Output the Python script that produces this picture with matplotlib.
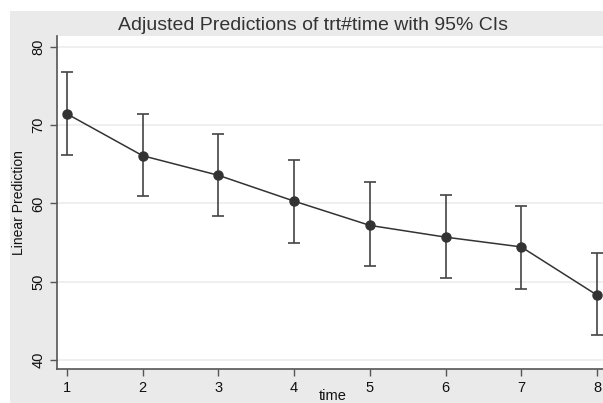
import numpy as np
import matplotlib

matplotlib.use('Agg')
import matplotlib.pyplot as plt
from matplotlib.patches import Rectangle

# values
time = [1, 2, 3, 4, 5, 6, 7, 8]
pred = [71.45, 66.1, 63.6, 60.3, 57.2, 55.7, 54.45, 48.3]
ci_low = [66.15, 60.9, 58.4, 54.9, 52.0, 50.5, 49.1, 43.2]
ci_high = [76.8, 71.4, 68.9, 65.5, 62.7, 61.1, 59.7, 53.7]
yticks = [40, 50, 60, 70, 80]

plt.rcParams['font.family'] = ['Liberation Sans', 'DejaVu Sans']

W, H = 603, 403
fig = plt.figure(figsize=(W / 100, H / 100), dpi=100)
fig.patch.set_facecolor('white')
# gray graph region (cropped at right / bottom)
fig.patches.append(Rectangle((10 / W, 0), 1, (H - 11) / H, transform=fig.transFigure,
                             facecolor='#eaeaea', edgecolor='none', zorder=-10))

# plot region: left 57px, top 36px, bottom 369px, right beyond the crop
x0, x1 = 0.868, 8.08
left = 57 / W
right = 603 / W
ax = fig.add_axes([left, (H - 369) / H, right - left, (369 - 36) / H])
ax.set_zorder(1)
ax.set_facecolor('white')
ax.set_xlim(x0, x1)
ax.set_ylim(38.85, 81.4)

ax.grid(axis='y', color='#ececec', linewidth=1.2)
ax.set_axisbelow(True)

err = [np.array(pred) - np.array(ci_low), np.array(ci_high) - np.array(pred)]
ax.errorbar(time, pred, yerr=err, fmt='none', ecolor='#444444', elinewidth=1.2,
            capsize=4, capthick=1.2)
ax.plot(time, pred, color='#333333', linewidth=1.1, marker='o', markersize=6.5,
        markerfacecolor='#333333', markeredgecolor='#333333')

for s in ['top', 'right']:
    ax.spines[s].set_visible(False)
for s in ['left', 'bottom']:
    ax.spines[s].set_color('#555555')
    ax.spines[s].set_linewidth(1.2)

ax.set_xticks(time)
ax.set_yticks(yticks)
ax.tick_params(axis='both', direction='out', length=5, width=1, color='#555555',
               labelsize=10.5, labelcolor='#111111')
ax.tick_params(axis='y', labelrotation=90)
for lbl in ax.get_yticklabels():
    lbl.set_va('center')

ax.set_ylabel('Linear Prediction', fontsize=10, color='#111111', labelpad=4)
fig.text(333 / W, 1 - 396 / H, 'time', fontsize=10.5, color='#111111', ha='center', va='center')
fig.text(313 / W, 1 - 25 / H, 'Adjusted Predictions of trt#time with 95% CIs',
         fontsize=14, color='#333333', ha='center', va='center')

fig.savefig('out.png', dpi=100)
